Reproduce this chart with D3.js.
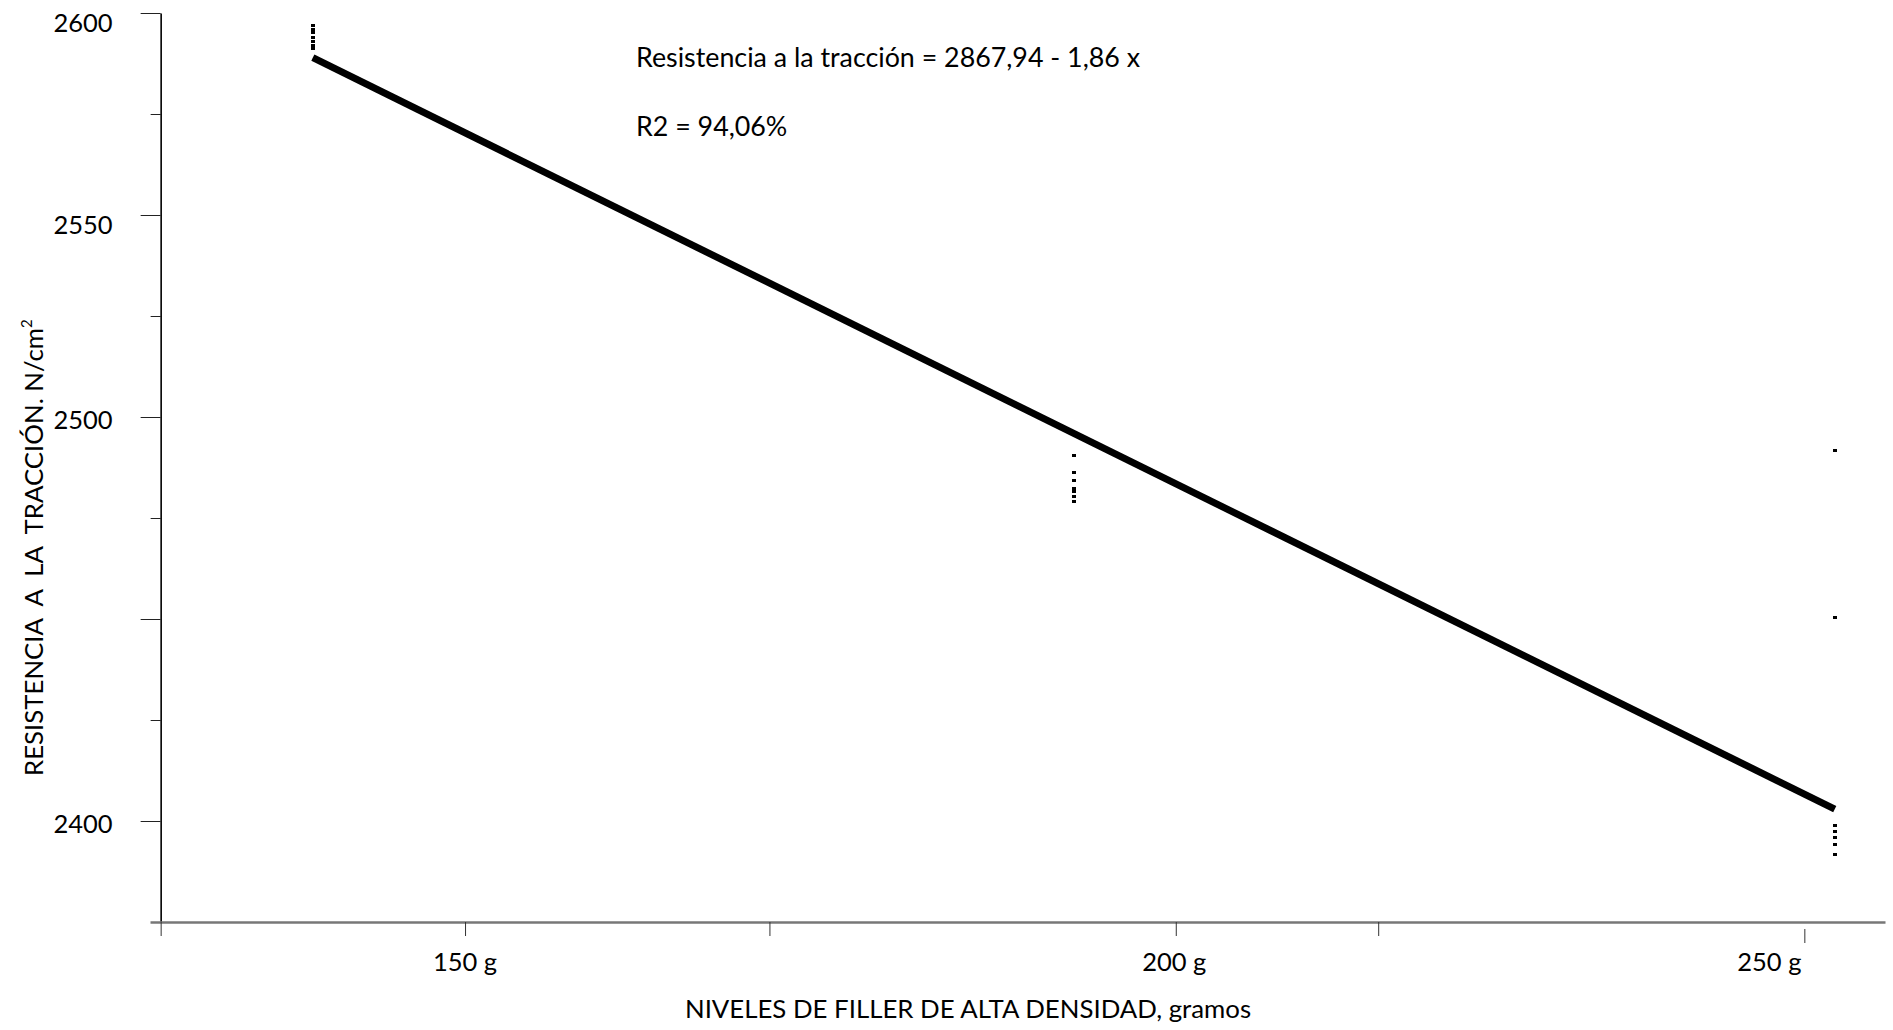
<!DOCTYPE html>
<html>
<head>
<meta charset="utf-8">
<script src="https://cdn.jsdelivr.net/npm/d3@7"></script>
<style>
    body { margin: 0; background: #fff; }
    text { font-family: Lato, "Open Sans", sans-serif; fill: #000; }
</style>
</head>
<body>
<div id="chart"></div>
<script>
var levels = [150, 200, 250];
var obs150 = [2597.0, 2596.0, 2595.1, 2593.9, 2593.0, 2592.0, 2591.1];
var obs200 = [2490.4, 2486.2, 2484.4, 2482.2, 2481.6, 2480.2, 2479.1];
var obs250 = [2491.6, 2450.4, 2398.8, 2397.3, 2395.8, 2394.1, 2391.8];

// fitted line: Resistencia = 2867,94 - 1,86 x
var fitIntercept = 2867.94;
var fitSlope = -1.86;
var fitRange = [150, 250];

var yMajorTicks = [2400, 2450, 2500, 2550, 2600];
var yMinorTicks = [2425, 2475, 2525, 2575];
var yLabelled = [2400, 2500, 2550, 2600];
var xTicks = [140, 160, 180, 206.7, 220, 248];
var xLabels = ["150 g", "200 g", "250 g"];
var xLabelAt = [160, 206.6, 245.7];

var width = 1893, height = 1030;
var margin = {left: 150, right: 8, top: 13, bottom: 108};

var svg = d3.select('#chart').append('svg')
    .attr('width', width)
    .attr('height', height);

var x = d3.scaleLinear()
    .domain([139.3, 253.3])
    .range([margin.left, width - margin.right]);
var y = d3.scaleLinear()
    .domain([2375, 2600])
    .range([height - margin.bottom, margin.top]);

//y axis: minor ticks, then major ticks with labels
var yMinor = svg.append('g')
    .attr('transform', 'translate(' + x(140) + ',0)')
    .call(d3.axisLeft(y).tickValues(yMinorTicks).tickSize(10).tickSizeOuter(0).tickFormat(''));
yMinor.select('.domain').remove();
yMinor.selectAll('.tick line').attr('stroke', '#222');

var yMajor = svg.append('g')
    .attr('transform', 'translate(' + x(140) + ',0)')
    .call(d3.axisLeft(y).tickValues(yMajorTicks).tickSize(20).tickSizeOuter(0).tickPadding(28)
        .tickFormat(function (d) { return yLabelled.indexOf(d) >= 0 ? d : ''; }));
yMajor.select('.domain').attr('stroke', '#000').attr('stroke-width', 1.6);
yMajor.selectAll('.tick line').attr('stroke', '#222');
yMajor.selectAll('.tick text')
    .attr('font-size', 25.5)
    .attr('dy', function (d) { return d >= 2550 ? '0.72em' : '0.45em'; })
    .style('font-family', 'Lato, sans-serif');

//x axis
var xAxis = svg.append('g')
    .attr('transform', 'translate(0,' + y(2375) + ')')
    .call(d3.axisBottom(x).tickValues(xTicks).tickSize(14).tickSizeOuter(0).tickFormat(''));
xAxis.select('.domain').attr('stroke', '#777').attr('stroke-width', 2.5);
xAxis.selectAll('.tick line').attr('stroke', '#333');
xAxis.selectAll('.tick').filter(function (d) { return d === 248; })
    .select('line').attr('y1', 7).attr('y2', 21);

svg.append('g').selectAll('text')
    .data(xLabels)
    .enter().append('text')
    .attr('x', function (d, i) { return x(xLabelAt[i]); })
    .attr('y', y(2375) + 49)
    .attr('text-anchor', 'middle')
    .attr('font-size', 25.5)
    .text(function (d) { return d; });

//axis titles
svg.append('text')
    .attr('x', 968)
    .attr('y', height - 12)
    .attr('text-anchor', 'middle')
    .attr('font-size', 25.8)
    .text('NIVELES DE FILLER DE ALTA DENSIDAD, gramos');

var yTitle = svg.append('text')
    .attr('transform', 'translate(43,' + 776 + ') rotate(-90)')
    .attr('font-size', 25.8)
    .style('white-space', 'pre');
yTitle.append('tspan').text('RESISTENCIA  A  LA  TRACCIÓN. N/cm');
yTitle.append('tspan').attr('font-size', 15).attr('dy', -11).text('2');

//observations as short dashes
var points = [];
[obs150, obs200, obs250].forEach(function (list, i) {
    list.forEach(function (v) { points.push({x: levels[i], y: v}); });
});
svg.append('g').selectAll('rect')
    .data(points)
    .enter().append('rect')
    .attr('x', function (d) { return x(d.x) - 2; })
    .attr('y', function (d) { return y(d.y) - 1.5; })
    .attr('width', 4)
    .attr('height', 3)
    .attr('shape-rendering', 'crispEdges')
    .style('fill', '#000');

//regression line
svg.append('line')
    .attr('x1', x(fitRange[0])).attr('y1', y(fitIntercept + fitSlope * fitRange[0]))
    .attr('x2', x(fitRange[1])).attr('y2', y(fitIntercept + fitSlope * fitRange[1]))
    .attr('stroke', '#000')
    .attr('stroke-width', 7);

//equation text
svg.append('text')
    .attr('x', 636).attr('y', 67)
    .attr('font-size', 26.8)
    .text('Resistencia a la tracción = 2867,94 - 1,86 x');
svg.append('text')
    .attr('x', 636).attr('y', 136)
    .attr('font-size', 26.8)
    .text('R2 = 94,06%');
</script>
</body>
</html>
